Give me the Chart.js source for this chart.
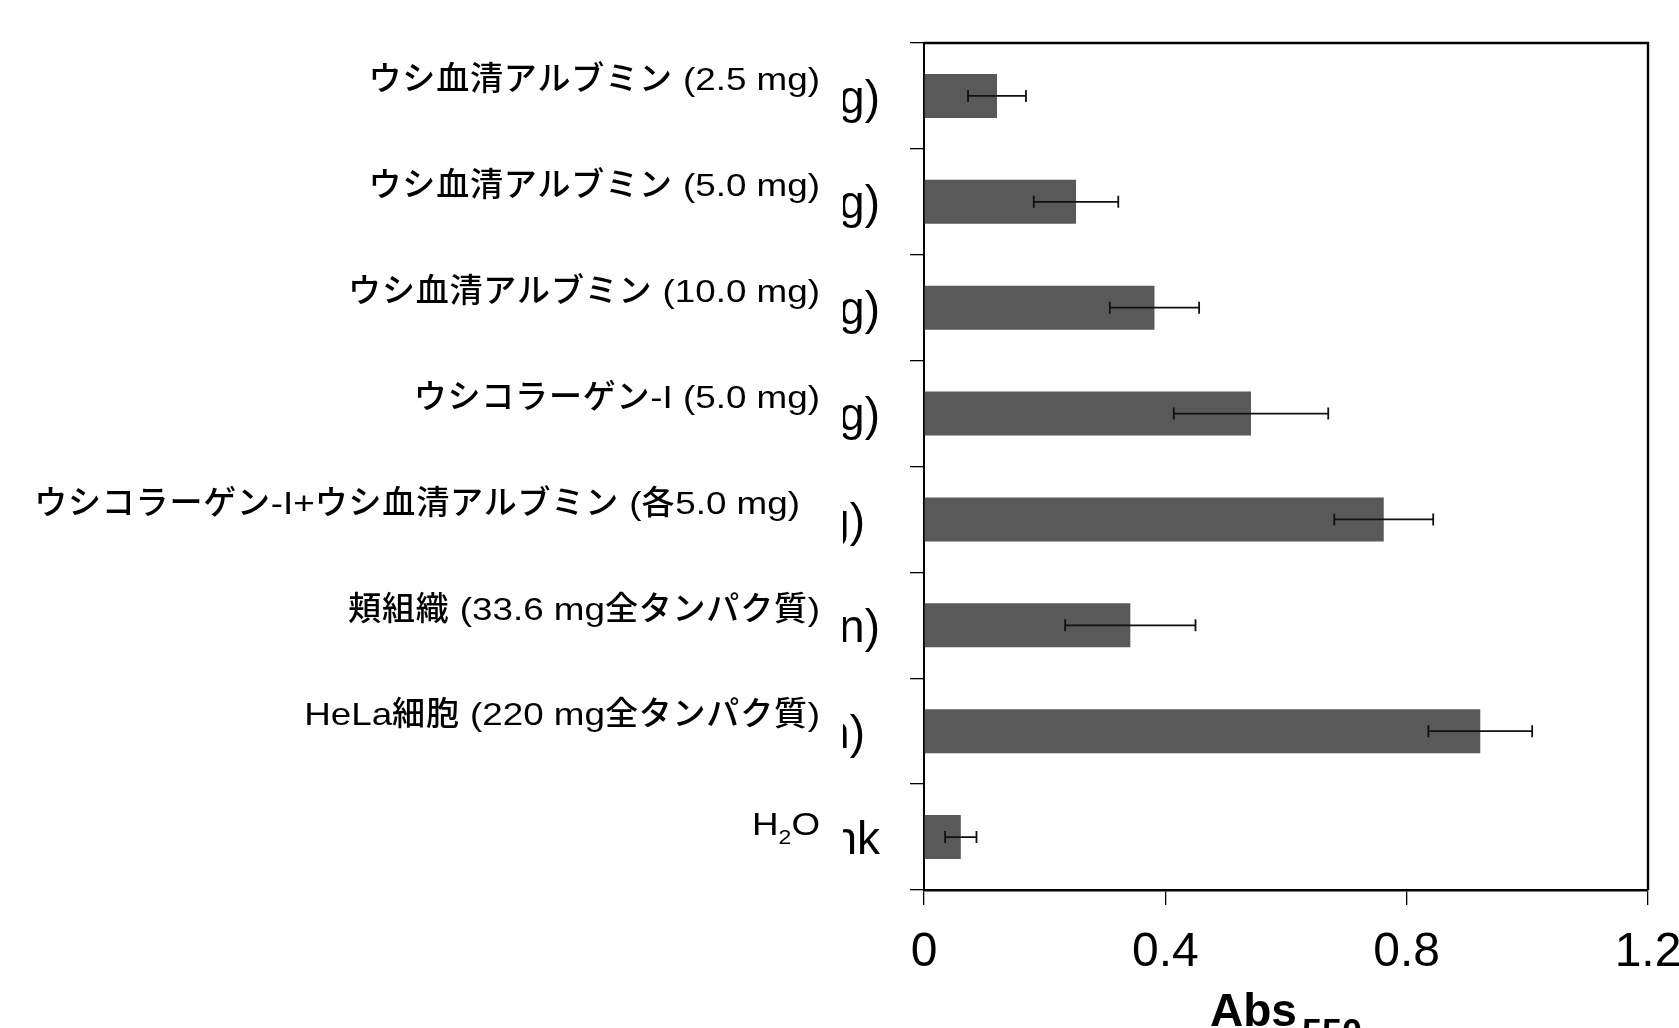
<!DOCTYPE html>
<html>
<head>
<meta charset="utf-8">
<script src="https://cdn.jsdelivr.net/npm/chart.js@4/dist/chart.umd.min.js"></script>
<style>
  html, body { margin: 0; padding: 0; background: #fff; }
  canvas { display: block; }
</style>
</head>
<body>
<canvas id="chart" width="1679" height="1028"></canvas>
<script>
// Sample labels (top to bottom)
const categories = [
  'ウシ血清アルブミン (2.5 mg)',
  'ウシ血清アルブミン (5.0 mg)',
  'ウシ血清アルブミン (10.0 mg)',
  'ウシコラーゲン-I (5.0 mg)',
  'ウシコラーゲン-I+ウシ血清アルブミン (各5.0 mg)',
  '頬組織 (33.6 mg全タンパク質)',
  'HeLa細胞 (220 mg全タンパク質)',
  'H₂O'
];

// Leftover endings of the older English row labels
const oldLabelEnds = ['g)', 'g)', 'g)', 'g)', 'g)', 'n)', 'n)', 'nk'];

// Mean absorbance at 550 nm and its error
const absMean = [0.121, 0.252, 0.382, 0.542, 0.762, 0.342, 0.922, 0.061];
const absErr  = [0.048, 0.070, 0.074, 0.128, 0.082, 0.108, 0.086, 0.026];

// Axis
const xTickLabels = ['0', '0.4', '0.8', '1.2'];
const xTitle = 'Abs';
const xTitleSub = '550';

const LATIN = '"Liberation Sans", Arial, sans-serif';
const CJK = '"Noto Sans CJK JP", "Liberation Sans", sans-serif';
Chart.defaults.font.family = LATIN;

// Row labels drawn to the left of the plot (wide Latin face, subscript digits)
const rowLabels = {
  id: 'rowLabels',
  afterDraw(chart) {
    const ctx = chart.ctx;
    const ys = chart.scales.y;
    const area = chart.chartArea;
    const subMap = { '₀':'0','₁':'1','₂':'2','₃':'3','₄':'4','₅':'5','₆':'6','₇':'7','₈':'8','₉':'9' };
    const LATIN_STRETCH = 1.15;

    ctx.save();
    // old label endings, partly hidden behind the new labels
    ctx.font = '46px ' + LATIN;
    ctx.fillStyle = '#000';
    ctx.textAlign = 'right';
    ctx.textBaseline = 'alphabetic';
    categories.forEach((_, i) => {
      const yc = ys.getPixelForValue(i);
      const right = (i === 4 || i === 6) ? 865 : 880;
      ctx.save();
      ctx.beginPath();
      ctx.rect(843, yc - 50, area.left - 843 - 4, 100);
      ctx.clip();
      ctx.fillText(oldLabelEnds[i], right, yc + 16.6);
      ctx.restore();
    });

    // current labels
    ctx.textAlign = 'left';
    categories.forEach((label, i) => {
      const yc = ys.getPixelForValue(i);
      const right = i === 4 ? 800 : 820;
      const runs = [];
      for (const ch of label) {
        let kind, t = ch;
        if (subMap[ch] !== undefined) { kind = 'sub'; t = subMap[ch]; }
        else if (ch.codePointAt(0) >= 0x2E80) kind = 'cjk';
        else kind = 'lat';
        if (runs.length && runs[runs.length - 1].kind === kind) runs[runs.length - 1].text += t;
        else runs.push({ text: t, kind });
      }
      const hasSub = runs.some(r => r.kind === 'sub');
      const base = hasSub ? yc - 2 : yc - 5.7;
      const fonts = {
        cjk: '500 33px ' + CJK,
        lat: '32px ' + LATIN,
        sub: '20px ' + LATIN
      };
      let total = 0;
      runs.forEach(r => {
        ctx.font = fonts[r.kind];
        ctx.letterSpacing = r.kind === 'cjk' ? '0.8px' : '0px';
        const w = ctx.measureText(r.text).width;
        r.w = r.kind === 'cjk' ? w : w * LATIN_STRETCH;
        total += r.w;
      });
      let x = right - total;
      runs.forEach(r => {
        ctx.font = fonts[r.kind];
        ctx.letterSpacing = r.kind === 'cjk' ? '0.8px' : '0px';
        const y = r.kind === 'sub' ? base + 9 : base;
        if (r.kind === 'cjk') {
          ctx.fillText(r.text, x, y);
        } else {
          ctx.save();
          ctx.translate(x, y);
          ctx.scale(LATIN_STRETCH, 1);
          ctx.fillText(r.text, 0, 0);
          ctx.restore();
        }
        x += r.w;
      });
    });
    ctx.letterSpacing = '0px';

    // x axis title with subscript
    const mainT = 'bold 46px ' + LATIN;
    const subT = 'bold 36px ' + LATIN;
    ctx.font = mainT;
    const w1 = ctx.measureText(xTitle).width + 5;
    ctx.font = subT;
    const w2 = ctx.measureText(xTitleSub).width;
    const cx = (area.left + area.right) / 2;
    const tx = cx - (w1 + w2) / 2;
    ctx.font = mainT;
    ctx.fillText(xTitle, tx, 1026);
    ctx.font = subT;
    ctx.fillText(xTitleSub, tx + w1, 1045);

    // frame: top and right edges of the plot
    ctx.strokeStyle = '#000';
    ctx.lineWidth = 2.4;
    ctx.beginPath();
    ctx.moveTo(area.left, area.top);
    ctx.lineTo(area.right, area.top);
    ctx.lineTo(area.right, area.bottom);
    ctx.stroke();
    ctx.restore();
  }
};

// Horizontal error bars with end caps
const errorBars = {
  id: 'errorBars',
  afterDatasetsDraw(chart) {
    const ctx = chart.ctx;
    const xs = chart.scales.x;
    const meta = chart.getDatasetMeta(0);
    ctx.save();
    ctx.strokeStyle = '#111';
    ctx.lineWidth = 1.8;
    meta.data.forEach((bar, i) => {
      const y = bar.y;
      const x0 = xs.getPixelForValue(absMean[i] - absErr[i]);
      const x1 = xs.getPixelForValue(absMean[i] + absErr[i]);
      const cap = 6;
      ctx.beginPath();
      ctx.moveTo(x0, y); ctx.lineTo(x1, y);
      ctx.moveTo(x0, y - cap); ctx.lineTo(x0, y + cap);
      ctx.moveTo(x1, y - cap); ctx.lineTo(x1, y + cap);
      ctx.stroke();
    });
    ctx.restore();
  }
};

new Chart(document.getElementById('chart'), {
  type: 'bar',
  data: {
    labels: categories,
    datasets: [{
      data: absMean,
      backgroundColor: 'rgb(89,89,89)',
      borderWidth: 0,
      barPercentage: 0.415,
      categoryPercentage: 1.0
    }]
  },
  options: {
    indexAxis: 'y',
    responsive: false,
    animation: false,
    devicePixelRatio: 1,
    layout: { padding: { top: 43, right: 31, left: 0, bottom: 0 } },
    plugins: { legend: { display: false }, tooltip: { enabled: false } },
    scales: {
      x: {
        type: 'linear',
        min: 0,
        max: 1.2,
        afterBuildTicks(s) {
          s.ticks = xTickLabels.map(t => ({ value: parseFloat(t) }));
        },
        afterFit(s) { s.height = 138; s.paddingLeft = 0; s.paddingRight = 0; },
        grid: { drawOnChartArea: false, tickLength: 15, color: '#000', lineWidth: 1.3 },
        border: { color: '#000', width: 2.4 },
        ticks: {
          color: '#000',
          font: { size: 48 },
          padding: 19,
          maxRotation: 0,
          autoSkip: false,
          callback: (v, i) => xTickLabels[i]
        }
      },
      y: {
        type: 'category',
        afterFit(s) { s.width = 924; s.paddingTop = 0; s.paddingBottom = 0; },
        grid: { drawOnChartArea: false, tickLength: 14, color: '#000', lineWidth: 1.3, offset: true },
        border: { color: '#000', width: 2 },
        ticks: { display: false }
      }
    }
  },
  plugins: [errorBars, rowLabels]
});
</script>
</body>
</html>
